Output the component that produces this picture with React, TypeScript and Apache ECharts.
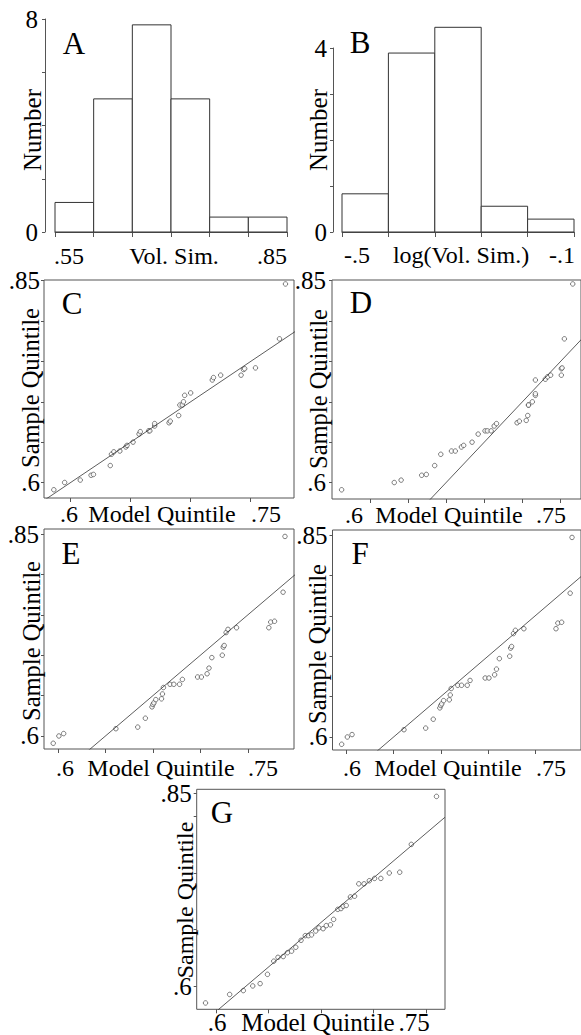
import React, { useEffect, useRef } from "react";
import * as echarts from "echarts";

const FONT = "'Liberation Serif', 'Times New Roman', serif";

// ---- Panel A: histogram of volume similarity (density) ----
const aEdges = [0.55, 0.6, 0.65, 0.7, 0.75, 0.8, 0.85];
const aHeights = [1.11, 5.0, 7.78, 5.0, 0.56, 0.56];

// ---- Panel B: histogram of log(volume similarity) (density) ----
const bEdges = [-0.6, -0.5, -0.4, -0.3, -0.2, -0.1];
const bHeights = [0.83, 3.89, 4.45, 0.56, 0.28];

// ---- Panel C: QQ plot ----
const cModel = [0.586, 0.595, 0.608, 0.617, 0.619, 0.633, 0.634, 0.636, 0.641, 0.646, 0.647, 0.652, 0.657, 0.658, 0.665, 0.666, 0.67, 0.67, 0.682, 0.683, 0.69, 0.691, 0.693, 0.694, 0.695, 0.7, 0.718, 0.719, 0.725, 0.742, 0.744, 0.745, 0.754, 0.774, 0.779];
const cSample = [0.591, 0.6, 0.603, 0.609, 0.61, 0.621, 0.635, 0.638, 0.639, 0.644, 0.646, 0.65, 0.66, 0.663, 0.664, 0.664, 0.67, 0.673, 0.674, 0.676, 0.683, 0.696, 0.696, 0.7, 0.708, 0.711, 0.727, 0.73, 0.733, 0.733, 0.74, 0.741, 0.742, 0.778, 0.846];

// ---- Panel D ----
const dModel = [0.463, 0.532, 0.541, 0.568, 0.574, 0.585, 0.593, 0.607, 0.612, 0.62, 0.623, 0.634, 0.642, 0.651, 0.654, 0.659, 0.663, 0.666, 0.693, 0.696, 0.705, 0.707, 0.708, 0.708, 0.713, 0.717, 0.717, 0.717, 0.73, 0.733, 0.737, 0.751, 0.751, 0.752, 0.755, 0.766];
const dSample = [0.591, 0.6, 0.603, 0.609, 0.61, 0.621, 0.635, 0.639, 0.639, 0.644, 0.646, 0.65, 0.66, 0.664, 0.664, 0.664, 0.67, 0.673, 0.674, 0.676, 0.677, 0.683, 0.696, 0.696, 0.7, 0.708, 0.71, 0.727, 0.728, 0.731, 0.733, 0.733, 0.741, 0.742, 0.778, 0.846];

// ---- Panel E ----
const eModel = [0.545, 0.551, 0.556, 0.611, 0.634, 0.642, 0.649, 0.65, 0.651, 0.653, 0.659, 0.66, 0.661, 0.668, 0.672, 0.678, 0.681, 0.697, 0.701, 0.707, 0.709, 0.712, 0.723, 0.724, 0.725, 0.727, 0.729, 0.738, 0.772, 0.774, 0.778, 0.787, 0.789];
const eSample = [0.591, 0.6, 0.603, 0.609, 0.611, 0.622, 0.636, 0.639, 0.641, 0.645, 0.646, 0.652, 0.66, 0.664, 0.664, 0.664, 0.67, 0.673, 0.673, 0.677, 0.684, 0.697, 0.7, 0.71, 0.712, 0.728, 0.732, 0.734, 0.734, 0.741, 0.742, 0.778, 0.847];

// ---- Panel F ----
const fModel = [0.545, 0.551, 0.556, 0.611, 0.634, 0.642, 0.649, 0.65, 0.651, 0.653, 0.659, 0.66, 0.661, 0.668, 0.672, 0.678, 0.681, 0.697, 0.701, 0.707, 0.709, 0.712, 0.723, 0.724, 0.725, 0.727, 0.729, 0.738, 0.772, 0.774, 0.778, 0.787, 0.789];
const fSample = [0.591, 0.6, 0.603, 0.609, 0.611, 0.622, 0.636, 0.639, 0.641, 0.645, 0.646, 0.652, 0.66, 0.664, 0.664, 0.664, 0.67, 0.673, 0.673, 0.677, 0.684, 0.697, 0.7, 0.71, 0.712, 0.728, 0.732, 0.734, 0.734, 0.741, 0.742, 0.778, 0.847];

// ---- Panel G ----
const gModel = [0.59, 0.613, 0.626, 0.635, 0.642, 0.649, 0.655, 0.659, 0.664, 0.668, 0.672, 0.676, 0.681, 0.685, 0.688, 0.691, 0.695, 0.698, 0.702, 0.705, 0.709, 0.712, 0.716, 0.719, 0.721, 0.724, 0.728, 0.732, 0.736, 0.741, 0.746, 0.751, 0.757, 0.765, 0.775, 0.786, 0.81];
const gSample = [0.579, 0.59, 0.595, 0.601, 0.604, 0.616, 0.633, 0.638, 0.639, 0.644, 0.646, 0.651, 0.66, 0.666, 0.666, 0.667, 0.672, 0.676, 0.675, 0.679, 0.68, 0.687, 0.7, 0.701, 0.704, 0.705, 0.716, 0.717, 0.733, 0.733, 0.737, 0.74, 0.74, 0.747, 0.748, 0.784, 0.846];

// reference lines
const identityLine = [[0.4, 0.4], [0.9, 0.9]];
const gRefLine = [[0.601, 0.569], [0.818, 0.819]];

// tick values
const qqYTicks = [0.6, 0.65, 0.7, 0.75, 0.8, 0.85];
const qqYLabels = [0.6, 0.85];
const cXTicks = [0.6, 0.65, 0.7, 0.75];
const dXTicks = [0.5, 0.55, 0.6, 0.65, 0.7, 0.75];
const eXTicks = [0.55, 0.6, 0.65, 0.7, 0.75];
const gXTicks = [0.6, 0.65, 0.7, 0.75, 0.8];
const gYTicks = [0.6, 0.674, 0.747, 0.821, 0.85];

const bins = (edges: number[], h: number[]) => h.map((v, i) => [edges[i], edges[i + 1], v]);
const pairs = (xs: number[], ys: number[]) => xs.map((x, i) => [x, ys[i]]);

const AXIS = "#555";
const INK = "#333";

export default function App() {
  const ref = useRef<HTMLDivElement>(null);
  useEffect(() => {
    if (!ref.current) return;
    const chart = echarts.init(ref.current, undefined, { renderer: "svg" });

    const lbl = { fontFamily: FONT, fontSize: 24, color: "#000" };
    const fmt = (v: number) => String(Math.round(v * 100) / 100).replace(/^(-?)0\./, "$1.");

    const grids: any[] = [
      { left: 55, top: 19, width: 232, height: 213 },
      { left: 342, top: 48, width: 232, height: 184 },
      { left: 44, top: 280, width: 250, height: 218 },
      { left: 332, top: 280, width: 250, height: 219 },
      { left: 44, top: 529, width: 250, height: 220 },
      { left: 332.5, top: 530, width: 250, height: 220 },
      { left: 196.7, top: 789.3, width: 248.3, height: 220 },
    ].map((g, i) =>
      i < 2
        ? { ...g, containLabel: false }
        : { ...g, containLabel: false, show: true, borderColor: AXIS, borderWidth: 1, backgroundColor: "transparent" }
    );

    const histX = (gi: number, min: number, max: number, interval: number) => ({
      type: "value", gridIndex: gi, min, max, interval, offset: 7,
      axisLine: { show: true, lineStyle: { color: AXIS, width: 1 } },
      axisTick: { show: true, length: 5, lineStyle: { color: AXIS } },
      axisLabel: { show: false }, splitLine: { show: false },
    });
    const histY = (gi: number, max: number, interval: number, offset: number, margin: number) => ({
      type: "value", gridIndex: gi, min: 0, max, interval, offset,
      axisLine: { show: true, lineStyle: { color: AXIS, width: 1 } },
      axisTick: { show: true, length: 3, lineStyle: { color: AXIS } },
      axisLabel: { ...lbl, fontSize: 25, margin, formatter: (v: number) => (v === 0 || v === max ? String(v) : "") },
      splitLine: { show: false },
    });
    const qqX = (gi: number, min: number, max: number, ticks: number[]) => ({
      type: "value", gridIndex: gi, min, max,
      axisLine: { show: false },
      axisTick: { show: true, length: 4, customValues: ticks, lineStyle: { color: AXIS } },
      axisLabel: { show: false }, splitLine: { show: false },
    });
    const qqY = (gi: number, min: number, max: number, ticks: number[], margin: number) => ({
      type: "value", gridIndex: gi, min, max,
      axisLine: { show: false },
      axisTick: { show: true, length: 3, customValues: ticks, lineStyle: { color: AXIS } },
      axisLabel: { ...lbl, fontSize: 25, margin, customValues: qqYLabels, formatter: fmt },
      splitLine: { show: false },
    });

    const xAxis = [
      histX(0, 0.55, 0.85, 0.05),
      histX(1, -0.6, -0.1, 0.1),
      qqX(2, 0.5778, 0.7861, cXTicks),
      qqX(3, 0.4504, 0.7768, dXTicks),
      qqX(4, 0.5353, 0.7985, eXTicks),
      qqX(5, 0.5353, 0.7985, eXTicks),
      qqX(6, 0.5816, 0.8181, gXTicks),
    ];
    const yAxis = [
      histY(0, 8, 2, 10, 7),
      histY(1, 4, 1, 9, 6),
      qqY(2, 0.5808, 0.8509, qqYTicks, 4),
      qqY(3, 0.5796, 0.8509, qqYTicks, 6),
      qqY(4, 0.5839, 0.8562, qqYTicks, 5),
      qqY(5, 0.5839, 0.8562, qqYTicks, 5),
      qqY(6, 0.5708, 0.8552, gYTicks, 5),
    ];

    const histSeries = (idx: number, data: number[][]) => ({
      type: "custom", xAxisIndex: idx, yAxisIndex: idx, clip: false,
      encode: { x: [0, 1], y: 2 },
      data,
      renderItem: (_p: any, api: any) => {
        const p0 = api.coord([api.value(0), 0]);
        const p1 = api.coord([api.value(1), api.value(2)]);
        return {
          type: "rect",
          shape: { x: p0[0], y: p1[1], width: p1[0] - p0[0], height: p0[1] - p1[1] },
          style: { fill: "#fff", stroke: INK, lineWidth: 1 },
        };
      },
    });
    const scat = (idx: number, xs: number[], ys: number[]) => ({
      type: "scatter", xAxisIndex: idx, yAxisIndex: idx, data: pairs(xs, ys),
      symbol: "circle", symbolSize: 4.5,
      itemStyle: { color: "#fff", borderColor: INK, borderWidth: 0.8 },
      emphasis: { disabled: true },
    });
    const refl = (idx: number, data: number[][]) => ({
      type: "line", xAxisIndex: idx, yAxisIndex: idx, data, symbol: "none", clip: true,
      lineStyle: { color: INK, width: 0.8 }, emphasis: { disabled: true },
    });

    const series: any[] = [
      histSeries(0, bins(aEdges, aHeights)),
      histSeries(1, bins(bEdges, bHeights)),
      refl(2, identityLine), scat(2, cModel, cSample),
      refl(3, identityLine), scat(3, dModel, dSample),
      refl(4, identityLine), scat(4, eModel, eSample),
      refl(5, identityLine), scat(5, fModel, fSample),
      refl(6, gRefLine), scat(6, gModel, gSample),
    ];

    const txt = (text: string, x: number, y: number, size: number, rot = 0) => ({
      type: "text", x, y, rotation: rot, z: 100,
      style: {
        text, fill: "#000", font: `${size}px ${FONT}`,
        align: "center", verticalAlign: "middle", textAlign: "center", textVerticalAlign: "middle",
      },
    });
    const R = Math.PI / 2;
    const graphic = [
      txt("A", 74, 43, 31), txt("B", 360, 42, 31), txt("C", 72, 303, 31), txt("D", 361, 302, 31),
      txt("E", 71, 553, 31), txt("F", 360, 553, 31), txt("G", 222, 812, 31),
      txt("Number", 32, 130, 25, R), txt("Number", 318, 130, 25, R),
      txt("Sample Quintile", 30, 388, 24.5, R), txt("Sample Quintile", 318, 389, 24.5, R),
      txt("Sample Quintile", 31, 641, 24.5, R), txt("Sample Quintile", 317, 644, 24.5, R),
      txt("Sample Quintile", 185, 900, 24, R),
      txt(".55", 69, 256, 24), txt("Vol. Sim.", 174, 256, 24), txt(".85", 272, 256, 24),
      txt("-.5", 357, 255, 24), txt("log(Vol. Sim.)", 461, 255, 24), txt("-.1", 562, 255, 24),
      txt(".6", 69, 514, 24), txt("Model Quintile", 162, 514, 24), txt(".75", 266, 514, 24),
      txt(".6", 354, 515, 24), txt("Model Quintile", 449, 515, 24), txt(".75", 551, 515, 24),
      txt(".6", 65, 768, 24), txt("Model Quintile", 161, 768, 24), txt(".75", 263, 768, 24),
      txt(".6", 352, 768, 24), txt("Model Quintile", 448, 768, 24), txt(".75", 551, 768, 24),
      txt(".6", 217, 1022, 25), txt("Model Quintile", 318, 1022, 25), txt(".75", 414, 1022, 25),
    ];

    chart.setOption({
      animation: false,
      backgroundColor: "#fff",
      textStyle: { fontFamily: FONT },
      grid: grids,
      xAxis,
      yAxis,
      series,
      graphic,
    });
    return () => chart.dispose();
  }, []);

  return (
    <div
      ref={ref}
      style={{ position: "fixed", left: 0, top: 0, width: 581, height: 1035, background: "#fff" }}
    />
  );
}
